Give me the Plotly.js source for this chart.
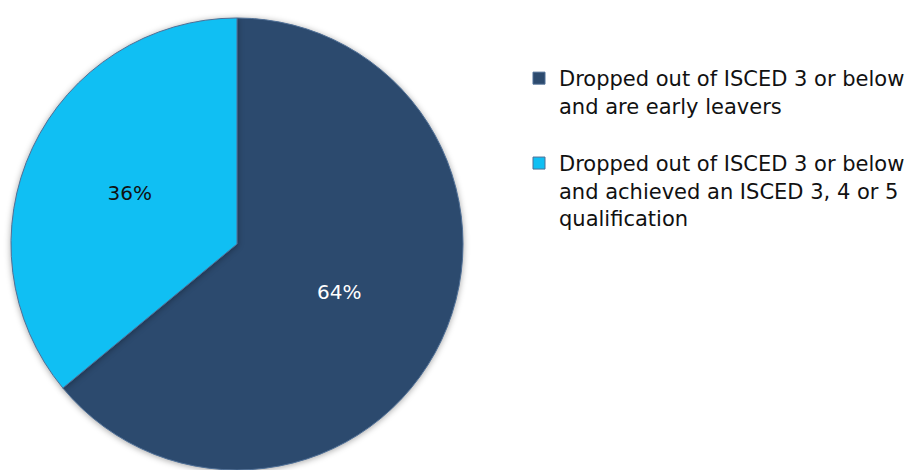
<!DOCTYPE html>
<html>
<head>
<meta charset="utf-8">
<script src="https://cdn.plot.ly/plotly-3.0.1.min.js"></script>
<style>
html,body{margin:0;padding:0;background:#fff;}
#chart{width:913px;height:470px;}
.pielayer path.surface{filter:drop-shadow(0px 1px 3px rgba(0,0,0,0.35));}
</style>
</head>
<body>
<div id="chart"></div>
<script>
const categories = [
  "Dropped out of ISCED 3 or below<br>and are early leavers<br> ",
  "Dropped out of ISCED 3 or below<br>and achieved an ISCED 3, 4 or 5<br>qualification"
];
const values = [64, 36];
const sliceColors = ["#2c4a6e", "#10bff3"];
const labelColors = ["#ffffff", "#111111"];

const FONT = "DejaVu Sans, Liberation Sans, Arial";

const trace = {
  type: "pie",
  labels: categories,
  values: values,
  sort: false,
  direction: "clockwise",
  rotation: 0,
  textinfo: "percent",
  texttemplate: "%{percent:.0%}",
  textposition: "inside",
  insidetextorientation: "horizontal",
  textfont: {family: FONT, size: 20, color: labelColors},
  marker: {colors: sliceColors, line: {color: "#4f6f96", width: 1}},
  domain: {x: [11/913, 463/913], y: [0, 452/470]},
  hoverinfo: "none"
};

const layout = {
  width: 913,
  height: 470,
  margin: {l: 0, r: 0, t: 0, b: 0},
  paper_bgcolor: "#ffffff",
  showlegend: true,
  legend: {
    x: 519/913, y: 1 - 58/470, xanchor: "left", yanchor: "top",
    valign: "top",
    font: {family: FONT, size: 21, color: "#111111"},
    itemwidth: 30
  }
};

Plotly.newPlot("chart", [trace], layout, {displayModeBar: false, staticPlot: true});
</script>
</body>
</html>
